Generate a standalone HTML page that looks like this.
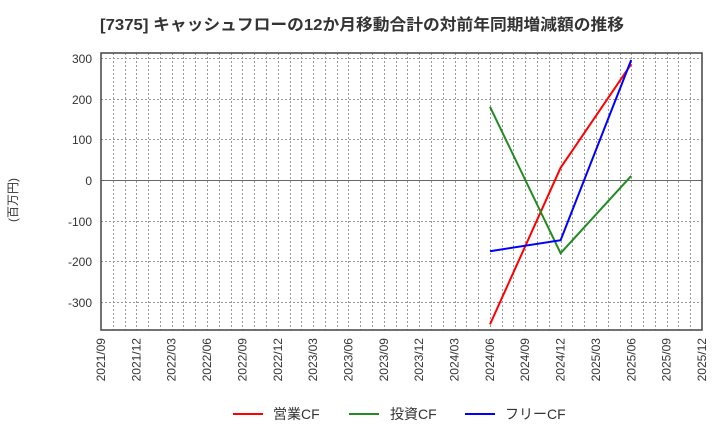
<!DOCTYPE html>
<html><head><meta charset="utf-8"><style>
body{margin:0;background:#fff;}
svg text{font-family:"Liberation Sans","Noto Sans CJK JP",sans-serif;}
</style></head><body>
<svg width="720" height="440" xmlns="http://www.w3.org/2000/svg">
<rect width="720" height="440" fill="#fff"/>
<text x="100" y="30" font-size="16" font-weight="bold" fill="#333" textLength="524" lengthAdjust="spacingAndGlyphs">[7375]  キャッシュフローの12か月移動合計の対前年同期増減額の推移</text>
<g id="vg" stroke="#999" stroke-width="1" stroke-dasharray="2,2"></g>
<g stroke="#999" stroke-width="1" stroke-dasharray="2,2">
<line x1="101" x2="702" y1="58.5" y2="58.5"/>
<line x1="101" x2="702" y1="99.5" y2="99.5"/>
<line x1="101" x2="702" y1="139.5" y2="139.5"/>
<line x1="101" x2="702" y1="221.5" y2="221.5"/>
<line x1="101" x2="702" y1="261.5" y2="261.5"/>
<line x1="101" x2="702" y1="302.5" y2="302.5"/>
</g>
<line x1="101" x2="702" y1="180.5" y2="180.5" stroke="#666" stroke-width="1"/>
<rect x="101" y="53" width="601" height="277" fill="none" stroke="#444" stroke-width="1.5"/>
<g font-size="12" fill="#333" text-anchor="end">
<text x="92" y="63">300</text><text x="92" y="104">200</text><text x="92" y="144">100</text>
<text x="92" y="185">0</text><text x="92" y="226">-100</text><text x="92" y="266">-200</text><text x="92" y="307">-300</text>
</g>
<text transform="translate(17,200) rotate(-90)" font-size="12" fill="#333" text-anchor="middle">(百万円)</text>
<g id="xl" font-size="12" fill="#333"></g>
<polyline points="490,324.4 560.6,167.8 631.2,64.1" fill="none" stroke="#f00" stroke-width="2"/>
<polyline points="490,106.8 560.6,253.2 631.2,175.9" fill="none" stroke="#228b22" stroke-width="2"/>
<polyline points="490,251.2 560.6,240.2 631.2,60" fill="none" stroke="#00f" stroke-width="2"/>
<line x1="233" x2="263" y1="414" y2="414" stroke="#f00" stroke-width="2"/>
<text x="273" y="419" font-size="14" fill="#333">営業CF</text>
<line x1="349" x2="379" y1="414" y2="414" stroke="#228b22" stroke-width="2"/>
<text x="390" y="419" font-size="14" fill="#333">投資CF</text>
<line x1="465" x2="495" y1="414" y2="414" stroke="#00f" stroke-width="2"/>
<text x="505" y="419" font-size="14" fill="#333">フリーCF</text>
</svg>
<script>
var ns="http://www.w3.org/2000/svg",vg=document.getElementById("vg"),xl=document.getElementById("xl");
for(var m=1;m<51;m++){var x=Math.round(101+m*601/51)+0.5;var l=document.createElementNS(ns,"line");l.setAttribute("x1",x);l.setAttribute("x2",x);l.setAttribute("y1",53);l.setAttribute("y2",330);vg.appendChild(l);}
var y=2021,mo=9;
for(var i=0;i<18;i++){var x=101+i*3*601/51+4;var t=document.createElementNS(ns,"text");t.setAttribute("transform","translate("+x+",338) rotate(-90)");t.setAttribute("text-anchor","end");t.textContent=y+"/"+(mo<10?"0":"")+mo;xl.appendChild(t);mo+=3;if(mo>12){mo-=12;y++;}}
</script>
</body></html>
